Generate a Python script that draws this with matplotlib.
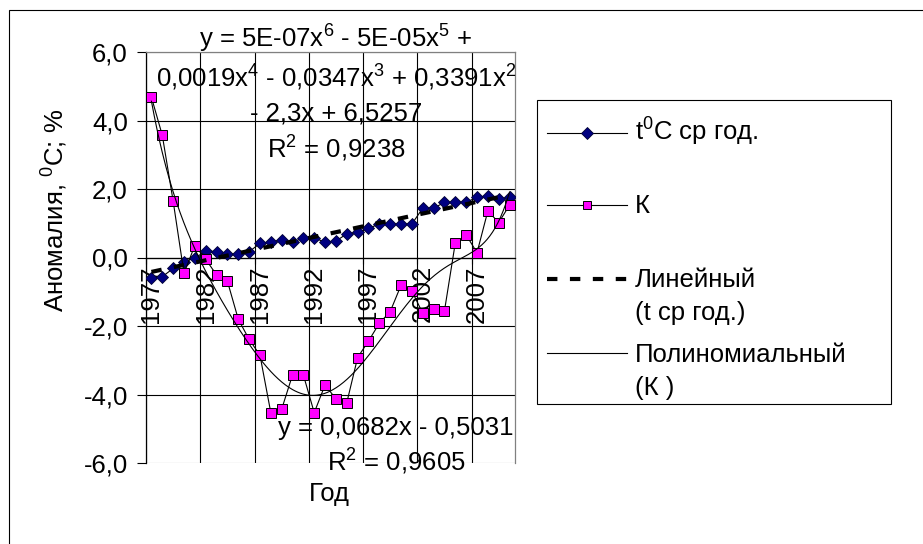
import numpy as np
import matplotlib
matplotlib.use('Agg')
import matplotlib.pyplot as plt
from matplotlib.lines import Line2D
from matplotlib.patches import Rectangle

# ---- data ----
years = list(range(1977, 2011))
t_anom = [-0.61, -0.56, -0.32, -0.12, -0.02, 0.19, 0.17, 0.10, 0.10, 0.17,
          0.41, 0.46, 0.51, 0.44, 0.58, 0.58, 0.44, 0.48, 0.69, 0.74,
          0.85, 0.98, 0.98, 0.98, 0.98, 1.44, 1.44, 1.61, 1.61, 1.61,
          1.76, 1.80, 1.71, 1.76]
k_anom = [4.68, 3.57, 1.65, -0.46, 0.35, -0.05, -0.51, -0.69, -1.80, -2.39,
          -2.85, -4.53, -4.43, -3.43, -3.43, -4.53, -3.72, -4.13, -4.24, -2.92,
          -2.44, -1.92, -1.58, -0.81, -0.98, -1.63, -1.51, -1.56, 0.43, 0.66,
          0.14, 1.36, 1.02, 1.53]
xtick_labels = ['1977', '1982', '1987', '1992', '1997', '2002', '2007']
yticks = [-6, -4, -2, 0, 2, 4, 6]

# ---- style ----
W, H = 923, 544
plt.rcParams['font.family'] = ['Liberation Sans', 'DejaVu Sans']
plt.rcParams['mathtext.fontset'] = 'custom'
plt.rcParams['mathtext.rm'] = 'Liberation Sans'
plt.rcParams['mathtext.it'] = 'Liberation Sans'
plt.rcParams['mathtext.bf'] = 'Liberation Sans:bold'
FS = 18.5
D_MS = 6.6
S_MS = 7.6

fig = plt.figure(figsize=(W / 100, H / 100), dpi=100)


def fx(p):
    return p / W


def fy(p):
    return 1 - p / H


ax = fig.add_axes([fx(146), fy(463), fx(515) - fx(146), fy(52) - fy(463)])
x = np.arange(1, len(years) + 1)
ax.set_xlim(0.5, len(years) + 0.5)
ax.set_ylim(-6, 6)

# ticks
ax.set_yticks(yticks)
ax.set_yticklabels([f"{v:.1f}".replace('.', ',') for v in yticks])
ax.tick_params(axis='y', direction='out', length=6.5, width=0.8, pad=6.5,
               labelsize=FS, color='black')
xpos = [years.index(int(l)) + 1 for l in xtick_labels]
ax.set_xticks(xpos)
ax.set_xticklabels(xtick_labels)
ax.set_xticks(np.arange(0.5, len(years), 5), minor=True)
ax.tick_params(axis='x', which='major', length=0, pad=5.5, labelrotation=90,
               labelsize=FS)
ax.tick_params(axis='x', which='minor', direction='out', length=4, width=0.8)

# grid
ax.set_axisbelow(True)
ax.yaxis.grid(True, color='black', lw=0.8)
ax.xaxis.grid(True, which='minor', color='black', lw=0.8)
ax.xaxis.grid(False, which='major')
glines = ax.get_ygridlines()
glines[0].set_color('#808080')
glines[-1].set_color('#808080')

# spines
ax.spines['bottom'].set_position(('data', 0))
ax.spines['bottom'].set_linewidth(0.9)
ax.spines['left'].set_linewidth(0.9)
for s in ['top', 'right']:
    ax.spines[s].set_color('#808080')
    ax.spines[s].set_linewidth(0.9)

# series
ax.plot(x, t_anom, color='black', lw=0.8, marker='D', ms=D_MS,
        mfc='#000080', mec='#000033', mew=0.6, zorder=3)
ax.plot(x, k_anom, color='black', lw=0.8, marker='s', ms=S_MS,
        mfc='#FF00FF', mec='black', mew=0.7, zorder=3)

# trendlines
lin = np.polyfit(x, t_anom, 1)
ax.plot(x, np.polyval(lin, x), color='black', lw=3, ls=(0, (2.5, 3)),
        zorder=4, dash_capstyle='butt')
poly = np.polynomial.Polynomial.fit(x, k_anom, 6)
xx = np.linspace(1, len(years), 400)
ax.plot(xx, poly(xx), color='black', lw=0.8, zorder=4)

# trendline labels
cx = fx(336)
fig.text(cx, fy(48), r'y = 5E-07x$^{6}$ - 5E-05x$^{5}$ +', ha='center',
         va='baseline', fontsize=FS)
fig.text(cx, fy(87), r'0,0019x$^{4}$ - 0,0347x$^{3}$ + 0,3391x$^{2}$',
         ha='center', va='baseline', fontsize=FS)
fig.text(cx, fy(120), '- 2,3x + 6,5257', ha='center', va='baseline', fontsize=FS)
fig.text(cx, fy(158), r'R$^{2}$ = 0,9238', ha='center', va='baseline', fontsize=FS)
fig.text(fx(396), fy(435), 'y = 0,0682x - 0,5031', ha='center', va='baseline',
         fontsize=FS)
fig.text(fx(396), fy(471), r'R$^{2}$ = 0,9605', ha='center', va='baseline',
         fontsize=FS)

# axis titles
fig.text(fx(55), fy(210), r'Аномалия, $^{0}$C; %', rotation=90, ha='center',
         va='center', fontsize=FS)
fig.text(fx(329), fy(494), 'Год', ha='center', va='center', fontsize=FS)

# legend (drawn manually)
fig.add_artist(Rectangle((fx(537), fy(404)), fx(891) - fx(537), fy(100) - fy(404),
                         transform=fig.transFigure, fill=False, ec='black', lw=0.8))
lx0, lx1, lxm, tx = fx(547), fx(627), fx(587), fx(635)
fig.add_artist(Line2D([lx0, lx1], [fy(133)] * 2, transform=fig.transFigure,
                      color='black', lw=0.8))
fig.add_artist(Line2D([lxm], [fy(133)], transform=fig.transFigure, marker='D',
                      ms=D_MS * 0.85, mfc='#000080', mec='#000033', mew=0.6,
                      ls='none'))
fig.text(tx, fy(141), r't$^{0}$C ср год.', ha='left', va='baseline', fontsize=FS)
fig.add_artist(Line2D([lx0, lx1], [fy(205)] * 2, transform=fig.transFigure,
                      color='black', lw=0.8))
fig.add_artist(Line2D([lxm], [fy(205)], transform=fig.transFigure, marker='s',
                      ms=S_MS * 0.85, mfc='#FF00FF', mec='black', mew=0.7,
                      ls='none'))
fig.text(tx, fy(213), 'К', ha='left', va='baseline', fontsize=FS)
fig.add_artist(Line2D([lx0, lx1], [fy(279)] * 2, transform=fig.transFigure,
                      color='black', lw=3, ls=(0, (2.5, 3)), dash_capstyle='butt'))
fig.text(tx, fy(287), 'Линейный', ha='left', va='baseline', fontsize=FS)
fig.text(tx, fy(320), '(t ср год.)', ha='left', va='baseline', fontsize=FS)
fig.add_artist(Line2D([lx0, lx1], [fy(353)] * 2, transform=fig.transFigure,
                      color='black', lw=0.8))
fig.text(tx, fy(362), 'Полиномиальный', ha='left', va='baseline', fontsize=FS)
fig.text(tx, fy(395), '(К )', ha='left', va='baseline', fontsize=FS)

# outer chart border
fig.add_artist(Rectangle((fx(9), fy(600)), fx(1000) - fx(9), fy(10) - fy(600),
                         transform=fig.transFigure, fill=False, ec='black', lw=0.8))

fig.savefig('out.png', dpi=100)
